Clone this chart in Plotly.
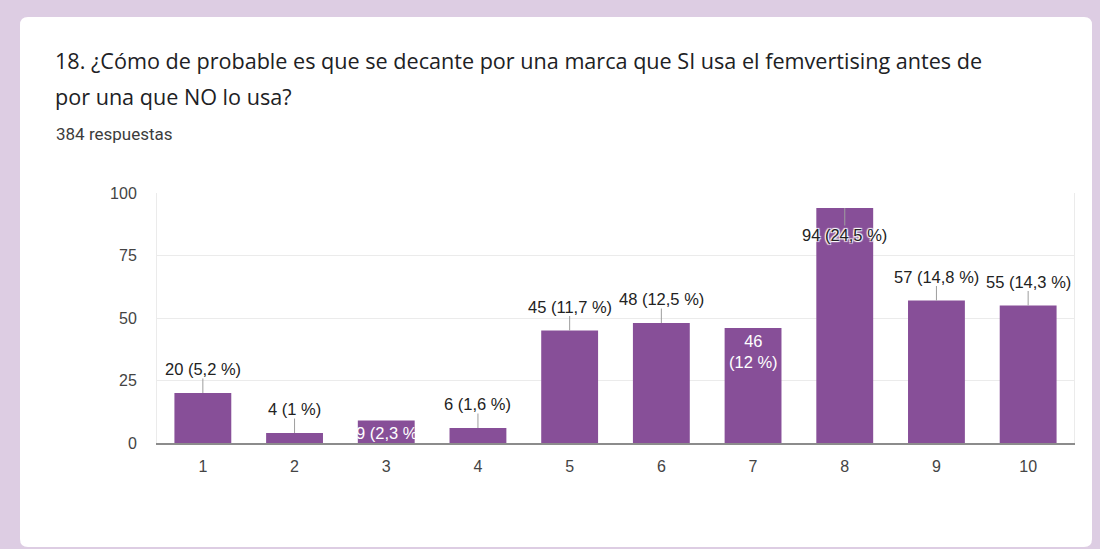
import plotly.graph_objects as go

# ---- data ----
categories = ["1", "2", "3", "4", "5", "6", "7", "8", "9", "10"]
counts = [20, 4, 9, 6, 45, 48, 46, 94, 57, 55]
total_responses = 384
y_ticks = [0, 25, 50, 75, 100]
title_lines = ["18. ¿Cómo de probable es que se decante por una marca que SI usa el femvertising antes de",
               "por una que NO lo usa?"]
subtitle = "384 respuestas"

# ---- label placement styles (per category) ----
label_modes = ["above", "above", "inside_clip", "above", "above", "above",
               "inside_wrap", "below_halo", "above", "above"]

W, H = 1100, 549
L, R, T, B = 157, 26, 193, 106
PW, PH = W - L - R, H - T - B


def px(x):
    return (x - L) / PW


def py(y):
    return (T + PH - y) / PH


def pct_text(v):
    p = round(v / total_responses * 100, 1)
    s = f"{p:.1f}".replace(".", ",")
    if s.endswith(",0"):
        s = s[:-2]
    return s + " %"


BAR = "#874f98"
LABEL_FONT = "Liberation Sans, Arial"
fig = go.Figure()
fig.add_trace(go.Bar(x=categories, y=counts, marker=dict(color=BAR, line=dict(width=0)),
                     width=0.62, hoverinfo="skip"))

annotations = []
for i, (c, v, mode) in enumerate(zip(categories, counts, label_modes)):
    pt = pct_text(v)
    font = dict(family=LABEL_FONT, size=16.5, color="#222222")
    if mode == "above":
        annotations.append(dict(x=i, y=v, xref="x", yref="y", text=f"{v} ({pt})",
                                showarrow=True, arrowhead=0, arrowwidth=1, arrowcolor="#9e9e9e",
                                ax=0, ay=-24, font=font, standoff=0, borderpad=0))
    elif mode == "below_halo":
        f = dict(font)
        f["shadow"] = "1px 1px 1px white, -1px -1px 1px white, 1px -1px 1px white, -1px 1px 1px white"
        annotations.append(dict(x=i, y=v, xref="x", yref="y", text=f"{v} ({pt})",
                                showarrow=True, arrowhead=0, arrowwidth=1, arrowcolor="#9e9e9e",
                                ax=0, ay=27, font=f, standoff=0, borderpad=0))
    elif mode == "inside_wrap":
        f = dict(font)
        f["color"] = "white"
        annotations.append(dict(x=i, y=v, xref="x", yref="y", text=f"{v}<br>({pt})",
                                showarrow=False, yanchor="top", yshift=-2, font=f))
    elif mode == "inside_clip":
        f = dict(font)
        f["color"] = "white"
        annotations.append(dict(x=i, y=v, xref="x", yref="y", text=f"{v} ({pt})",
                                showarrow=False, yanchor="top", yshift=-1, xshift=3, font=f))

# title + subtitle
TITLE_FONT = "Open Sans"
annotations.append(dict(x=px(53), y=py(60), xref="paper", yref="paper", xanchor="left", yanchor="middle",
                        text=title_lines[0], showarrow=False,
                        font=dict(family=TITLE_FONT, size=21.6, color="#202124")))
annotations.append(dict(x=px(53), y=py(96), xref="paper", yref="paper", xanchor="left", yanchor="middle",
                        text=title_lines[1], showarrow=False,
                        font=dict(family=TITLE_FONT, size=21.6, color="#202124")))
annotations.append(dict(x=px(54), y=py(134), xref="paper", yref="paper", xanchor="left", yanchor="middle",
                        text=subtitle, showarrow=False,
                        font=dict(family="Roboto", size=17, color="#3c3c3c")))

# rounded white card
x0, x1, y0, y1 = px(20), px(1092), py(547), py(17)
rx, ry = 8 / PW, 8 / PH
card_path = (f"M {x0+rx},{y1} L {x1-rx},{y1} Q {x1},{y1} {x1},{y1-ry} "
             f"L {x1},{y0+ry} Q {x1},{y0} {x1-rx},{y0} L {x0+rx},{y0} Q {x0},{y0} {x0},{y0+ry} "
             f"L {x0},{y1-ry} Q {x0},{y1} {x0+rx},{y1} Z")
shapes = [dict(type="path", path=card_path, xref="paper", yref="paper",
               fillcolor="white", line=dict(width=0), layer="below")]

TICK_FONT = dict(family=LABEL_FONT, size=16, color="#444444")
fig.update_layout(
    width=W, height=H,
    margin=dict(l=L, r=R, t=T, b=B, pad=0),
    paper_bgcolor="#ddcde3",
    plot_bgcolor="white",
    showlegend=False,
    bargap=0.38,
    annotations=annotations,
    shapes=shapes,
    xaxis=dict(type="category", showgrid=False, showline=True, linecolor="#8c8c8c", linewidth=2,
               ticks="outside", ticklen=8, tickcolor="rgba(0,0,0,0)",
               tickfont=TICK_FONT, fixedrange=True),
    yaxis=dict(range=[0, 100], tickvals=y_ticks, showgrid=True, gridcolor="#ebebeb", gridwidth=1,
               zeroline=False, showline=True, linecolor="#ebebeb", mirror=True,
               ticks="outside", ticklen=16, tickcolor="rgba(0,0,0,0)",
               tickfont=TICK_FONT, fixedrange=True),
)

fig.write_html("out.html", config={"displayModeBar": False},
               post_script="document.body.style.margin='0';document.body.style.overflow='hidden';")
